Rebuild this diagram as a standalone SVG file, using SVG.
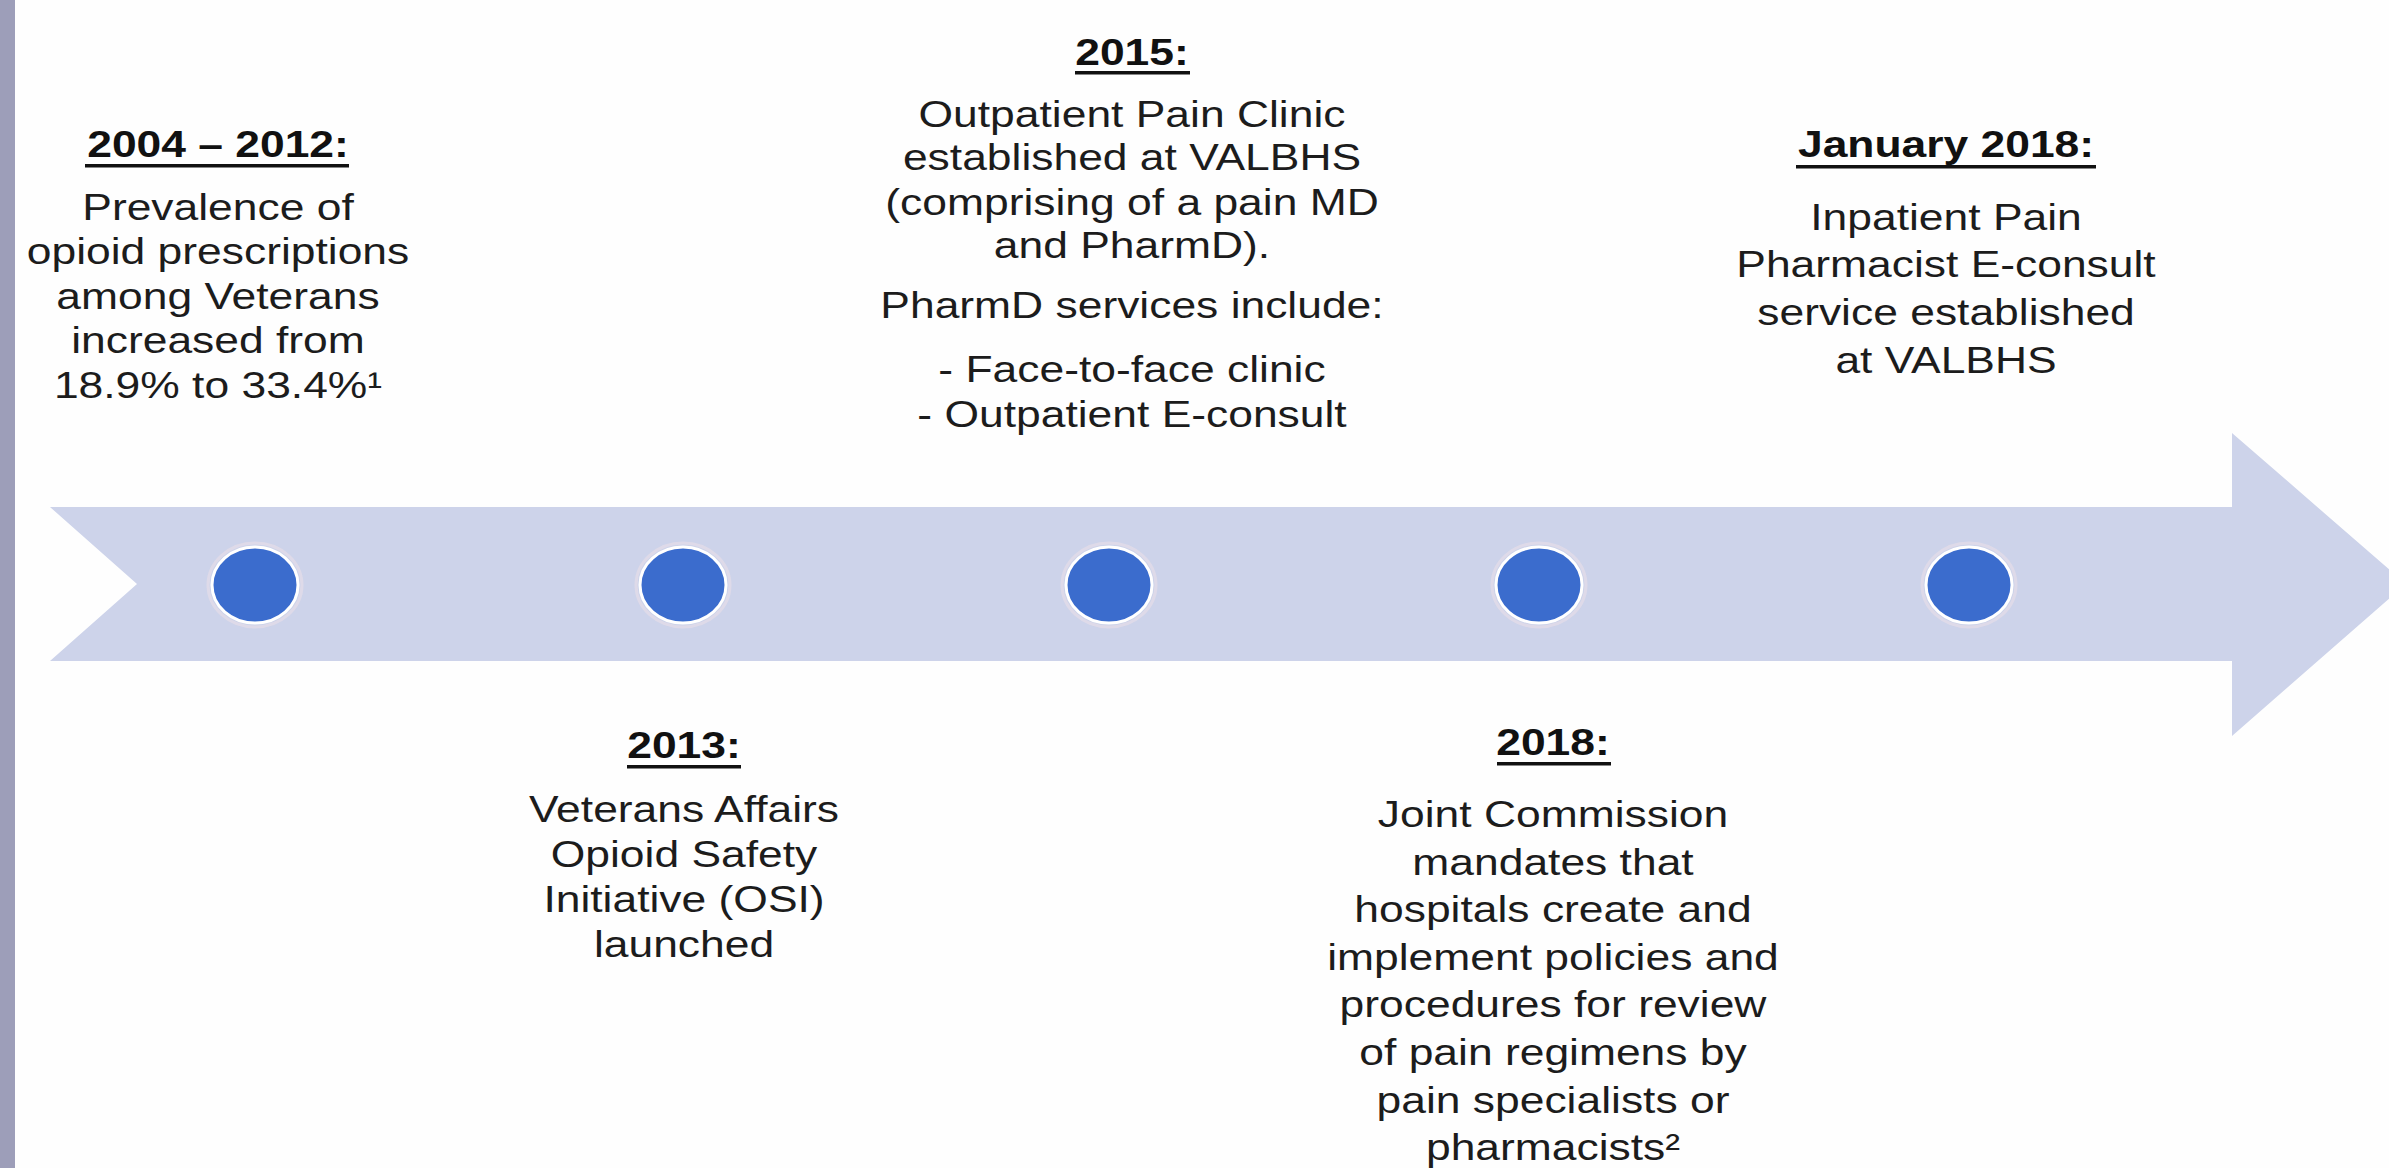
<svg xmlns="http://www.w3.org/2000/svg" width="2389" height="1168" viewBox="0 0 2389 1168">
<style>
  .t { font-family: "Liberation Sans", Arial, sans-serif; font-size: 37px; fill: #1c1c1c; text-anchor: middle; }
  .h { font-family: "Liberation Sans", Arial, sans-serif; font-size: 37px; font-weight: bold; fill: #111; text-anchor: middle; }
  .ul { fill: #111; }
  .dot { fill: #3b6ccd; stroke: #ffffff; stroke-width: 3; }
  .halo { fill: none; stroke: #e9dfe8; stroke-width: 3; opacity: 0.6; }
</style>
<rect x="0" y="0" width="2389" height="1168" fill="#fefefe"/>
<rect x="0" y="0" width="15" height="1168" fill="#9d9eb9"/>

<g id="timeline-arrow">
  <polygon points="50,507 2232,507 2232,433 2406,584 2232,736 2232,661 50,661 137,584" fill="#cdd3ea"/>
</g>

<g id="connectors"></g>

<g id="node-2004-2012">
  <ellipse class="halo" cx="255" cy="585" rx="47" ry="42"/>
  <ellipse class="dot" cx="255" cy="585" rx="43" ry="38"/>
  <rect class="ul" x="85" y="164" width="264" height="3.5"/>
  <g transform="translate(218 0) scale(1.2 1)">
    <text class="h" x="0" y="157">2004 – 2012:</text>
    <text class="t" x="0" y="220">Prevalence of</text>
    <text class="t" x="0" y="264.5">opioid prescriptions</text>
    <text class="t" x="0" y="309">among Veterans</text>
    <text class="t" x="0" y="353.5">increased from</text>
    <text class="t" x="0" y="398">18.9% to 33.4%¹</text>
  </g>
</g>

<g id="node-2013">
  <ellipse class="halo" cx="683" cy="585" rx="47" ry="42"/>
  <ellipse class="dot" cx="683" cy="585" rx="43" ry="38"/>
  <rect class="ul" x="627" y="765" width="114" height="3.5"/>
  <g transform="translate(684 0) scale(1.2 1)">
    <text class="h" x="0" y="758">2013:</text>
    <text class="t" x="0" y="822">Veterans Affairs</text>
    <text class="t" x="0" y="867">Opioid Safety</text>
    <text class="t" x="0" y="912">Initiative (OSI)</text>
    <text class="t" x="0" y="957">launched</text>
  </g>
</g>

<g id="node-2015">
  <ellipse class="halo" cx="1109" cy="585" rx="47" ry="42"/>
  <ellipse class="dot" cx="1109" cy="585" rx="43" ry="38"/>
  <rect class="ul" x="1075" y="71" width="115" height="3.5"/>
  <g transform="translate(1132 0) scale(1.2 1)">
    <text class="h" x="0" y="65">2015:</text>
    <text class="t" x="0" y="127">Outpatient Pain Clinic</text>
    <text class="t" x="0" y="170">established at VALBHS</text>
    <text class="t" x="0" y="215">(comprising of a pain MD</text>
    <text class="t" x="0" y="258">and PharmD).</text>
    <text class="t" x="0" y="318">PharmD services include:</text>
    <text class="t" x="0" y="382">- Face-to-face clinic</text>
    <text class="t" x="0" y="427">- Outpatient E-consult</text>
  </g>
</g>

<g id="node-2018">
  <ellipse class="halo" cx="1539" cy="585" rx="47" ry="42"/>
  <ellipse class="dot" cx="1539" cy="585" rx="43" ry="38"/>
  <rect class="ul" x="1497" y="762" width="114" height="3.5"/>
  <g transform="translate(1553 0) scale(1.2 1)">
    <text class="h" x="0" y="755">2018:</text>
    <text class="t" x="0" y="827">Joint Commission</text>
    <text class="t" x="0" y="874.6">mandates that</text>
    <text class="t" x="0" y="922">hospitals create and</text>
    <text class="t" x="0" y="970">implement policies and</text>
    <text class="t" x="0" y="1017">procedures for review</text>
    <text class="t" x="0" y="1065">of pain regimens by</text>
    <text class="t" x="0" y="1113">pain specialists or</text>
    <text class="t" x="0" y="1160">pharmacists²</text>
  </g>
</g>

<g id="node-jan-2018">
  <ellipse class="halo" cx="1969" cy="585" rx="47" ry="42"/>
  <ellipse class="dot" cx="1969" cy="585" rx="43" ry="38"/>
  <rect class="ul" x="1796" y="165" width="300" height="3.5"/>
  <g transform="translate(1946 0) scale(1.2 1)">
    <text class="h" x="0" y="157">January 2018:</text>
    <text class="t" x="0" y="230">Inpatient Pain</text>
    <text class="t" x="0" y="277">Pharmacist E-consult</text>
    <text class="t" x="0" y="325">service established</text>
    <text class="t" x="0" y="373">at VALBHS</text>
  </g>
</g>
</svg>
